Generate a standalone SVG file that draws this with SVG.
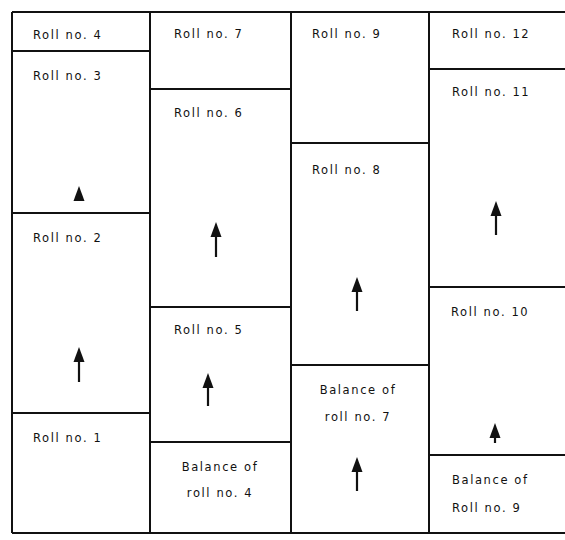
<svg xmlns="http://www.w3.org/2000/svg" width="565" height="540" viewBox="0 0 565 540">
<defs>
<style>
.ln{stroke:#111;stroke-width:2;fill:none}
.t{font-family:"DejaVu Sans","Liberation Sans",sans-serif;font-size:11.5px;letter-spacing:1.6px;fill:#111}
.c{text-anchor:middle}
.sh{stroke:#111;stroke-width:2.2}
.hd{fill:#111}
</style>
<path id="head" d="M0,-8 L5.5,7 L-5.5,7 Z"/>
</defs>
<rect width="565" height="540" fill="#fff"/>
<g id="grid">
<path class="ln" d="M12,12 H565 M12,533 H565 M12,12 V533 M150,12 V533 M291,12 V533 M429,12 V533"/>
</g>
<g id="roll4"><path class="ln" d="M12,51 H150"/><text class="t" x="33" y="39">Roll no. 4</text></g>
<g id="roll3"><path class="ln" d="M12,213 H150"/><text class="t" x="33" y="80">Roll no. 3</text>
<use href="#head" class="hd" x="79" y="194"/></g>
<g id="roll2"><path class="ln" d="M12,413 H150"/><text class="t" x="33" y="242">Roll no. 2</text>
<line class="sh" x1="79" y1="358" x2="79" y2="382"/><use href="#head" class="hd" x="79" y="355"/></g>
<g id="roll1"><text class="t" x="33" y="442">Roll no. 1</text></g>
<g id="roll7"><path class="ln" d="M150,89 H291"/><text class="t" x="174" y="38">Roll no. 7</text></g>
<g id="roll6"><path class="ln" d="M150,307 H291"/><text class="t" x="174" y="117">Roll no. 6</text>
<line class="sh" x1="216" y1="232" x2="216" y2="257"/><use href="#head" class="hd" x="216" y="230"/></g>
<g id="roll5"><path class="ln" d="M150,442 H291"/><text class="t" x="174" y="334">Roll no. 5</text>
<line class="sh" x1="208" y1="383" x2="208" y2="406"/><use href="#head" class="hd" x="208" y="381"/></g>
<g id="bal4"><text class="t c" x="220" y="471">Balance of</text><text class="t c" x="220" y="497">roll no. 4</text></g>
<g id="roll9"><path class="ln" d="M291,143 H429"/><text class="t" x="312" y="38">Roll no. 9</text></g>
<g id="roll8"><path class="ln" d="M291,365 H429"/><text class="t" x="312" y="174">Roll no. 8</text>
<line class="sh" x1="357" y1="287" x2="357" y2="311"/><use href="#head" class="hd" x="357" y="285"/></g>
<g id="bal7"><text class="t c" x="358" y="394">Balance of</text><text class="t c" x="358" y="421">roll no. 7</text>
<line class="sh" x1="357" y1="467" x2="357" y2="491"/><use href="#head" class="hd" x="357" y="465"/></g>
<g id="roll12"><path class="ln" d="M429,69 H565"/><text class="t" x="452" y="38">Roll no. 12</text></g>
<g id="roll11"><path class="ln" d="M429,287 H565"/><text class="t" x="452" y="96">Roll no. 11</text>
<line class="sh" x1="496" y1="211" x2="496" y2="235"/><use href="#head" class="hd" x="496" y="209"/></g>
<g id="roll10"><path class="ln" d="M429,455 H565"/><text class="t" x="451" y="316">Roll no. 10</text>
<line class="sh" x1="495" y1="430" x2="495" y2="443"/><use href="#head" class="hd" x="495" y="431"/></g>
<g id="bal9"><text class="t" x="452" y="484">Balance of</text><text class="t" x="452" y="512">Roll no. 9</text></g>
</svg>
